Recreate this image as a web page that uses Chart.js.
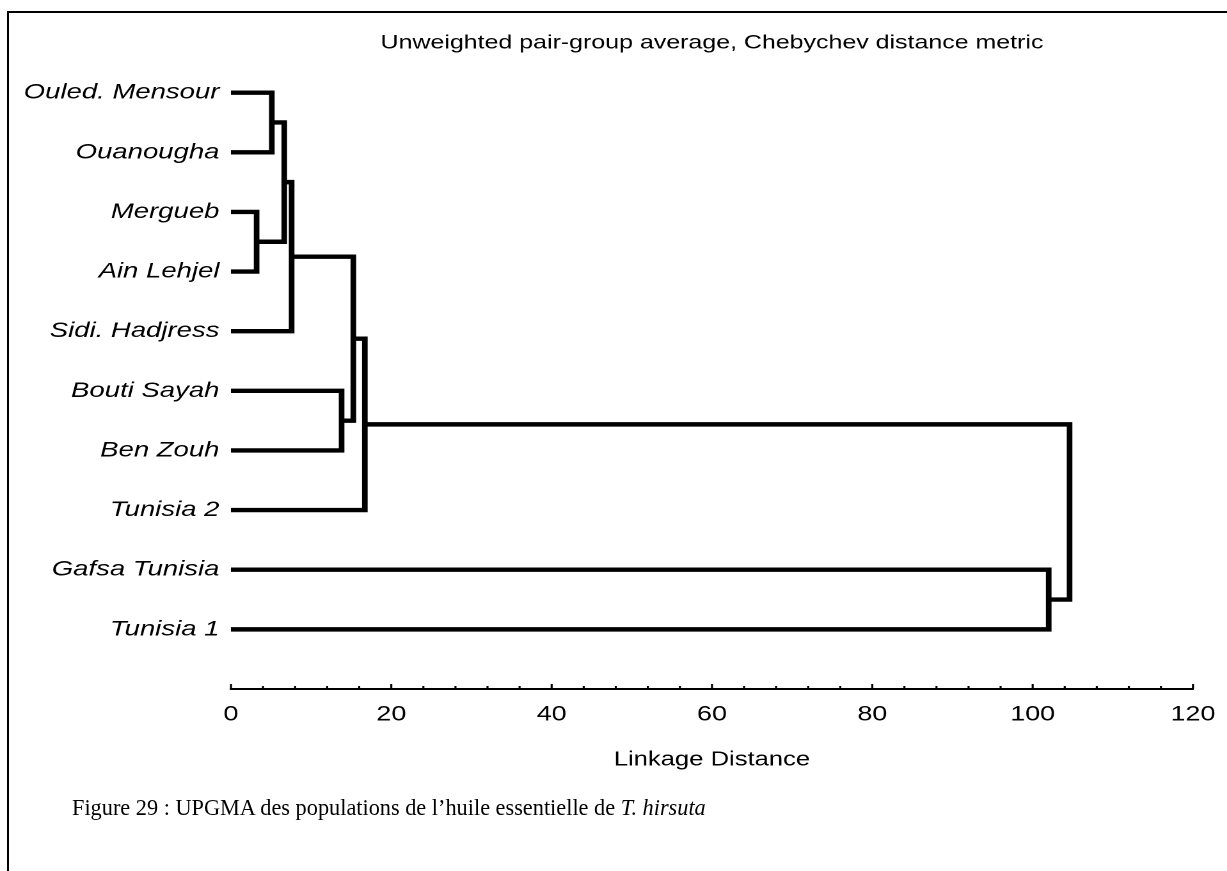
<!DOCTYPE html>
<html>
<head>
<meta charset="utf-8">
<title>UPGMA dendrogram</title>
<script src="https://cdn.jsdelivr.net/npm/chart.js@4.4.1/dist/chart.umd.min.js"></script>
<style>
  html, body { margin: 0; padding: 0; background: #fff; }
  #wrap { position: relative; width: 1227px; height: 871px; overflow: hidden; }
  /* the original export is stretched sideways, so the plot is too */
  #plot {
    position: absolute; left: 0; top: 0; width: 959px; height: 871px;
    transform: scaleX(1.2795); transform-origin: 0 0;
  }
  #frame {
    position: absolute; left: 7px; top: 11px; right: -10px; bottom: -10px;
    border-top: 2px solid #000; border-left: 2px solid #000;
  }
  #caption {
    position: absolute; left: 72px; top: 795px;
    font-family: "Liberation Serif", "Times New Roman", serif;
    font-size: 22.3px; line-height: 26px; color: #000; white-space: nowrap;
  }
</style>
</head>
<body>
<div id="wrap">
  <div id="frame"></div>
  <div id="plot"><canvas id="dendro" width="959" height="871"></canvas></div>
  <div id="caption">Figure 29 : UPGMA des populations de l’huile essentielle de <i>T. hirsuta</i></div>
</div>
<script>
// leaves, top to bottom
const leafNames = [
  'Ouled. Mensour',
  'Ouanougha',
  'Mergueb',
  'Ain Lehjel',
  'Sidi. Hadjress',
  'Bouti Sayah',
  'Ben Zouh',
  'Tunisia 2',
  'Gafsa Tunisia',
  'Tunisia 1',
];

// merge steps: ids < 10 are leaves, merge k creates node 10 + k
const mergeLeft   = [2, 0, 11, 12, 5, 13, 15, 8, 16];
const mergeRight  = [3, 1, 10, 4, 6, 14, 7, 9, 17];
const mergeHeight = [3.2, 5.1, 6.65, 7.57, 13.8, 15.26, 16.7, 102.0, 104.6];

const xTickStep = 4;
const xLabelStep = 20;

// row and height of every node
const nodeRow = leafNames.map((n, i) => i);
const nodeHeight = leafNames.map(() => 0);
mergeHeight.forEach((h, k) => {
  nodeRow.push((nodeRow[mergeLeft[k]] + nodeRow[mergeRight[k]]) / 2);
  nodeHeight.push(h);
});

const linkDatasets = mergeHeight.map((h, k) => {
  const a = mergeLeft[k];
  const b = mergeRight[k];
  return {
    data: [
      { x: nodeHeight[a], y: nodeRow[a] },
      { x: h, y: nodeRow[a] },
      { x: h, y: nodeRow[b] },
      { x: nodeHeight[b], y: nodeRow[b] },
    ],
    borderColor: '#000',
    borderWidth: 4.4,
    borderJoinStyle: 'miter',
    borderCapStyle: 'butt',
    pointRadius: 0,
    tension: 0,
    fill: false,
  };
});

// small tick marks pointing up from the axis
const axisTicksPlugin = {
  id: 'axisTicks',
  afterDraw(chart) {
    const { ctx } = chart;
    const x = chart.scales.x;
    ctx.save();
    ctx.strokeStyle = '#000';
    ctx.lineWidth = 1.6;
    x.ticks.forEach(t => {
      const px = x.getPixelForValue(t.value);
      const len = t.value % xLabelStep === 0 ? 5 : 3;
      ctx.beginPath();
      ctx.moveTo(px, x.top);
      ctx.lineTo(px, x.top - len);
      ctx.stroke();
    });
    ctx.restore();
  }
};

const font = '"Liberation Sans", Arial, sans-serif';

const ctx = document.getElementById('dendro').getContext('2d');
const chart = new Chart(ctx, {
  type: 'line',
  data: { datasets: linkDatasets },
  plugins: [axisTicksPlugin],
  options: {
    responsive: false,
    devicePixelRatio: 2,
    animation: false,
    events: [],
    layout: { padding: { left: 0, right: 26.6, top: 0, bottom: 0 } },
    plugins: {
      legend: { display: false },
      tooltip: { enabled: false },
      title: {
        display: true,
        text: 'Unweighted pair-group average, Chebychev distance metric',
        position: 'top',
        fullSize: false,
        color: '#000',
        font: { family: font, size: 19.5, weight: 'normal' },
        padding: { top: 31.3, bottom: 8.15 },
      },
    },
    scales: {
      x: {
        type: 'linear',
        position: 'bottom',
        min: 0,
        max: 120,
        grid: { display: false, drawTicks: false },
        border: { display: true, color: '#000', width: 2 },
        ticks: {
          stepSize: xTickStep,
          autoSkip: false,
          maxRotation: 0,
          padding: 13,
          color: '#000',
          font: { family: font, size: 21 },
          callback: v => (v % xLabelStep === 0 ? String(v) : ''),
        },
        title: {
          display: true,
          text: 'Linkage Distance',
          color: '#000',
          font: { family: font, size: 20 },
          padding: { top: 0, bottom: 99 },
        },
        afterFit: scale => {
          scale.height = 182;
          scale.paddingLeft = 0;
          scale.paddingRight = 0;
        },
      },
      y: {
        type: 'linear',
        reverse: true,
        min: -0.5,
        max: 10,
        grid: { display: false, drawTicks: false },
        border: { display: false },
        afterBuildTicks: scale => {
          scale.ticks = leafNames.map((n, i) => ({ value: i }));
        },
        ticks: {
          padding: 9,
          color: '#000',
          font: { family: font, size: 21.5, style: 'italic' },
          callback: v => leafNames[v],
        },
        afterFit: scale => { scale.width = 180.5; },
      },
    },
  },
});
</script>
</body>
</html>
